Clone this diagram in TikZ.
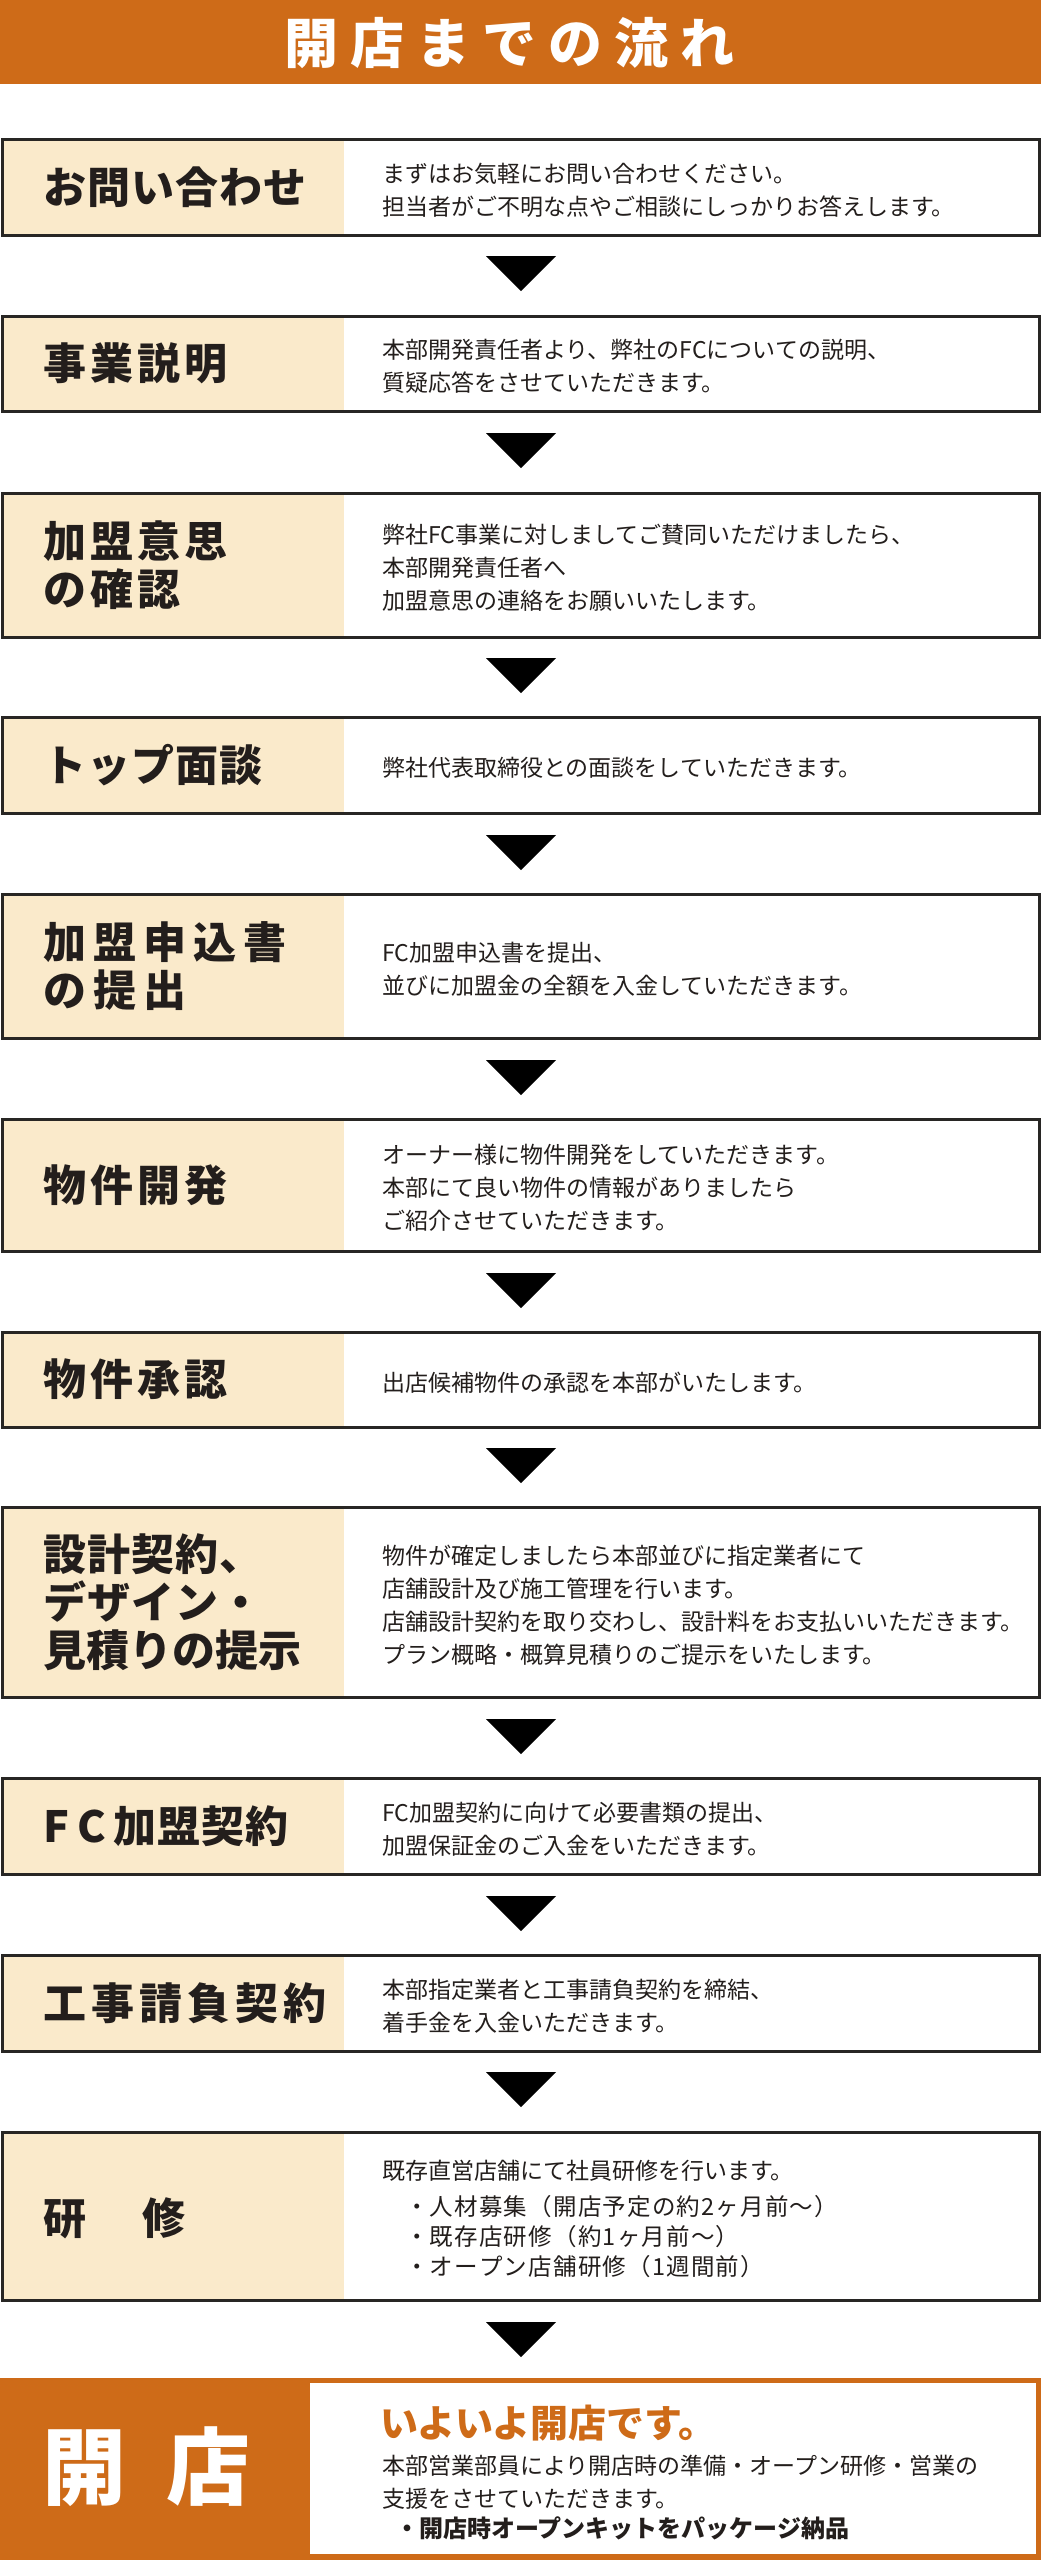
\documentclass[tikz,border=0pt]{standalone}
\usepackage{fontspec}
\setmainfont{Noto Sans CJK JP}
\definecolor{orng}{RGB}{206,107,24}
\definecolor{beige}{RGB}{250,234,203}
\definecolor{ink}{RGB}{35,30,28}
\definecolor{frame}{RGB}{40,38,36}
\ExplSyntaxOn
\NewDocumentCommand\spc{mm}{\tl_map_inline:nn{#2}{##1\kern#1}}
\ExplSyntaxOff
\tikzset{
  frameline/.style={draw=frame, line width=3pt},
  labeltext/.style={anchor=west, font=\fontsize{43}{48}\selectfont\bfseries, text=ink, align=left, inner sep=0pt},
  bodytext/.style={anchor=west, font=\fontsize{23}{33}\selectfont, text=ink, align=left, inner sep=0pt},
  bullettext/.style={anchor=west, font=\fontsize{23.5}{30}\selectfont, text=ink, align=left, inner sep=0pt},
  arrowtri/.style={fill=black},
}
\newcommand\stepbox[5]{%
  \fill[white] (2,#2) rectangle (1039,#3);
  \fill[beige] (2,#2) rectangle (344,#3);
  \draw[frameline] (2,#2) rectangle (1039,#3);
  \node[labeltext] (l#1) at (43,{(#2+#3)/2}) {#4};
  \node[bodytext] (t#1) at (382,{(#2+#3)/2+3}) {#5};
}
\begin{document}
\begin{tikzpicture}[x=1pt,y=-1pt]
\useasboundingbox (0,0) rectangle (1041,2560);
\fill[white] (0,0) rectangle (1041,2560);
% header
\fill[orng] (0,0) rectangle (1041,84);
\node[anchor=west, inner sep=0pt, text=white, font=\fontsize{54}{54}\selectfont\bfseries] (title) at (284,43) {\spc{12pt}{開店までの流れ}};
% steps
\stepbox{1}{139}{235}{\spc{1pt}{お問い合わせ}}{まずはお気軽にお問い合わせください。\\担当者がご不明な点やご相談にしっかりお答えします。}
\stepbox{2}{316}{411}{\spc{4pt}{事業説明}}{本部開発責任者より、弊社のFCについての説明、\\質疑応答をさせていただきます。}
\stepbox{3}{493}{637}{\fontsize{43}{54}\selectfont\spc{4pt}{加盟意思}\\\spc{4pt}{の確認}}{弊社FC事業に対しましてご賛同いただけましたら、\\本部開発責任者へ\\加盟意思の連絡をお願いいたします。}
\stepbox{4}{717}{813}{\spc{1pt}{トップ面談}}{弊社代表取締役との面談をしていただきます。}
\stepbox{5}{894}{1038}{\fontsize{43}{54}\selectfont\spc{7pt}{加盟申込書}\\\spc{7pt}{の提出}}{FC加盟申込書を提出、\\並びに加盟金の全額を入金していただきます。}
\stepbox{6}{1119}{1251}{\spc{4pt}{物件開発}}{オーナー様に物件開発をしていただきます。\\本部にて良い物件の情報がありましたら\\ご紹介させていただきます。}
\stepbox{7}{1332}{1427}{\spc{4pt}{物件承認}}{出店候補物件の承認を本部がいたします。}
\stepbox{8}{1507}{1697}{\spc{1pt}{設計契約、}\\\spc{1pt}{デザイン・}\\\spc{0pt}{見積りの提示}}{物件が確定しましたら本部並びに指定業者にて\\店舗設計及び施工管理を行います。\\店舗設計契約を取り交わし、設計料をお支払いいただきます。\\プラン概略・概算見積りのご提示をいたします。}
\stepbox{9}{1778}{1874}{\spc{8pt}{FC}\spc{1pt}{加盟契約}}{FC加盟契約に向けて必要書類の提出、\\加盟保証金のご入金をいただきます。}
\stepbox{10}{1955}{2051}{\spc{5pt}{工事請負契約}}{本部指定業者と工事請負契約を締結、\\着手金を入金いただきます。}
% step 11 (training)
\fill[white] (2,2132) rectangle (1039,2300);
\fill[beige] (2,2132) rectangle (344,2300);
\draw[frameline] (2,2132) rectangle (1039,2300);
\node[labeltext] (l11) at (43,2218) {研\kern56pt 修};
\node[bodytext] (t11) at (382,2171) {既存直営店舗にて社員研修を行います。};
\node[bullettext] (t11a) at (405,2207) {\spc{1.2pt}{・人材募集（開店予定の約2ヶ月前～）}};
\node[bullettext] (t11b) at (405,2237) {\spc{1.2pt}{・既存店研修（約1ヶ月前～）}};
\node[bullettext] (t11c) at (405,2267) {\spc{1.2pt}{・オープン店舗研修（1週間前）}};
% triangles
\foreach \t in {256,433,658,835,1060,1273,1448,1719,1896,2072,2322}
  \fill[arrowtri] (486,\t) -- (556,\t) -- (521,\t+35) -- cycle;
% opening
\fill[orng] (0,2378) rectangle (1041,2560);
\fill[white] (310,2383) rectangle (1036,2554);
\node[anchor=west, inner sep=0pt, text=white, font=\fontsize{84}{84}\selectfont\bfseries] (open) at (42,2467) {\spc{40pt}{開店}};
\node[anchor=west, inner sep=0pt, text=orng, font=\fontsize{38}{38}\selectfont\bfseries] (t12) at (380,2423) {いよいよ開店です。};
\node[bodytext] (t12a) at (382,2482) {本部営業部員により開店時の準備・オープン研修・営業の\\支援をさせていただきます。};
\node[bullettext, font=\fontsize{24}{30}\selectfont\bfseries] (t12b) at (395,2528) {・開店時オープンキットをパッケージ納品};
\end{tikzpicture}
\end{document}
